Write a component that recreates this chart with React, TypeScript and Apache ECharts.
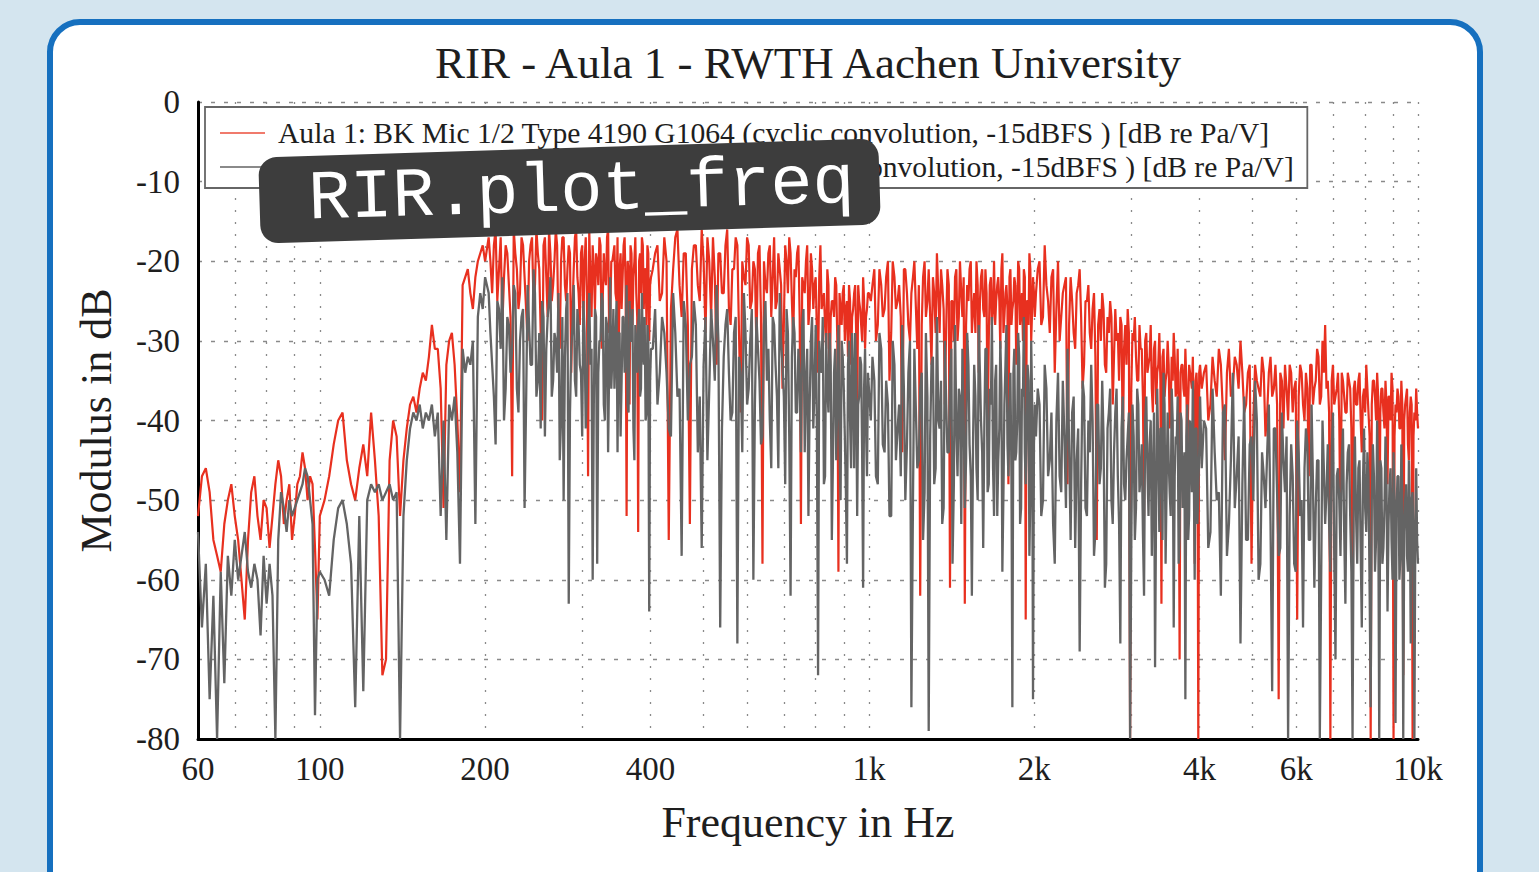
import React, { useEffect, useRef } from "react";
import * as echarts from "echarts";

const titleText = "RIR - Aula 1 - RWTH Aachen University";
const redName = "Aula 1: BK Mic 1/2 Type 4190 G1064 (cyclic convolution, -15dBFS ) [dB re Pa/V]";
const grayName = "Aula 1: BK Mic 1/2 Type 4190 G1064 (linear deconvolution, -15dBFS ) [dB re Pa/V]";

const xTickValues = [60, 100, 200, 400, 1000, 2000, 4000, 6000, 10000];
const xTickLabels = ["60", "100", "200", "400", "1k", "2k", "4k", "6k", "10k"];
const xGridValues = [70, 80, 90, 100, 200, 300, 400, 500, 600, 700, 800, 900, 1000, 2000, 3000, 4000, 5000, 6000, 7000, 8000, 9000, 10000];

const freqLow = [60,61,62,63,64,65,66,67,68,69,70,71,72,73,74,75,76,77,78,79,80,81,82,83,84,85,86,87,88,89,90,91,92,93,94,95,96,97,98,99,100,
102,104,106,108,110,112,114,116,118,120,122,124,126,128,130,132,134,136,138,140,142,144,146,148,150,152,154,156,158,160,162,164,166,168,170,172,174,176,178,180,182,184,186,188,190,192,194,196,198,200];
const redLow = [-52,-47,-46,-49,-55,-57,-59,-53,-50,-48,-52,-55,-60,-65,-55,-49,-47,-52,-55,-50,-51,-56,-52,-48,-45,-47,-53,-50,-48,-55,-52,-48,-47,-44,-46,-50,-47,-48,-56,-65,-52,
-50,-47,-43,-40,-39,-45,-48,-50,-46,-43,-47,-39,-45,-52,-72,-70,-45,-40,-42,-52,-45,-41,-38,-37,-39,-36,-34,-35,-32,-28,-31,-31,-36,-51,-33,-30,-29,-33,-40,-49,-23,-22,-21,-24,-26,-22,-20,-19,-18,-20];
const grayLow = [-54,-66,-58,-75,-62,-80,-59,-73,-57,-62,-55,-60,-57,-54,-59,-61,-58,-60,-67,-57,-63,-58,-62,-80,-55,-49,-51,-54,-50,-52,-51,-50,-49,-48,-46,-47,-50,-53,-77,-60,-59,
-60,-62,-55,-51,-50,-53,-58,-76,-52,-74,-50,-48,-49,-48,-50,-49,-48,-50,-49,-80,-52,-45,-41,-39,-40,-38,-41,-39,-40,-38,-42,-39,-52,-40,-55,-38,-40,-37,-44,-58,-31,-34,-32,-33,-30,-53,-27,-24,-26,-22];

const freqMid = [203,206,209,212,215,218,221,224,227,230,233,236,239,242,245,248,251,254,257,260,263,266,269,272,275,278,281,284,287,290,293,296,299,302,305,308,311,314,317,320,323,326,329,332,335,338,341,344,347,350,353,356,359,362,365,368,371,374,377,380,383,386,389,392,395,398,401,
408,416,424,432,440,448,456,464,472,480,488,496,504,512,520,528,536,544,552,560,568,576,584,592,600,608,616,624,632,640,648,656,664,672,680,688,696,704,712,720,728,736,744,752,760,768,776,784,792,800,808,816,824,832,840,848,856,864,872,880,888,896,904,912,920,928,936,944,952,960,968,976,984,992,1000];
const redMid = [-17,-24,-16,-21,-28,-18,-23,-47,-19,-26,-17,-22,-30,-18,-25,-16,-21,-40,-17,-27,-19,-23,-16,-29,-20,-17,-25,-18,-34,-21,-16,-24,-19,-28,-17,-47,-22,-18,-26,-20,-17,-31,-19,-23,-16,-27,-20,-18,-25,-36,-19,-22,-17,-52,-21,-18,-28,-20,-24,-54,-19,-17,-26,-21,-18,-30,-22,
-19,-25,-17,-55,-21,-16,-27,-19,-53,-18,-23,-16,-29,-20,-17,-33,-19,-24,-16,-28,-21,-18,-39,-22,-17,-26,-20,-31,-18,-58,-23,-19,-27,-17,-25,-21,-36,-18,-24,-19,-30,-22,-18,-53,-23,-20,-28,-19,-26,-22,-34,-18,-25,-28,-21,-37,-25,-27,-23,-59,-26,-24,-30,-25,-23,-33,-26,-23,-41,-25,-28,-22,-31,-26,-24];
const grayMid = [-24,-33,-43,-26,-22,-36,-28,-31,-24,-39,-27,-51,-23,-33,-21,-37,-29,-25,-42,-27,-22,-35,-30,-24,-40,-50,-26,-63,-31,-23,-37,-28,-34,-25,-41,-29,-33,-60,-26,-58,-30,-24,-38,-27,-44,-22,-32,-36,-25,-29,-42,-27,-34,-23,-39,-30,-26,-45,-31,-28,-37,-24,-33,-40,-28,-64,-31,
-26,-34,-29,-41,-24,-37,-57,-28,-33,-25,-44,-56,-27,-36,-30,-23,-66,-32,-26,-40,-29,-68,-34,-24,-38,-30,-60,-27,-35,-42,-25,-31,-46,-28,-37,-24,-33,-48,-29,-62,-27,-39,-31,-44,-26,-35,-52,-30,-41,-28,-72,-33,-27,-47,-36,-29,-55,-34,-45,-28,-50,-32,-42,-58,-30,-46,-35,-29,-52,-37,-33,-61,-31,-47,-36];

const freqMidFill = [204.5,207.5,210.5,213.5,216.5,219.5,222.5,225.5,228.5,231.5,234.5,237.5,240.5,243.5,246.5,249.5,252.5,255.5,258.5,261.5,264.5,267.5,270.5,273.5,276.5,279.5,282.5,285.5,288.5,291.5,294.5,297.5,300.5,303.5,306.5,309.5,312.5,315.5,318.5,321.5,324.5,327.5,330.5,333.5,336.5,339.5,342.5,345.5,348.5,351.5,354.5,357.5,360.5,363.5,366.5,369.5,372.5,375.5,378.5,381.5,384.5,387.5,390.5,393.5,396.5,399.5,
404,412,420,428,436,444,452,460,468,476,484,492,500,508,516,524,532,540,548,556,564,572,580,588,596,604,612,620,628,636,644,652,660,668,676,684,692,700,708,716,724,732,740,748,756,764,772,780,788,796,804,812,820,828,836,844,852,860,868,876,884,892,900,908,916,924,932,940,948,956,964,972,980,988,996];
const redMidFill = [-20,-18,-25,-17,-22,-19,-27,-16,-21,-24,-18,-26,-20,-17,-23,-19,-29,-18,-22,-16,-25,-20,-18,-31,-17,-23,-21,-19,-26,-17,-22,-28,-18,-20,-24,-16,-27,-21,-19,-23,-18,-25,-22,-17,-29,-20,-19,-24,-17,-21,-26,-18,-23,-20,-38,-19,-22,-17,-27,-20,-24,-18,-21,-28,-19,-23,
-21,-18,-24,-20,-26,-17,-23,-19,-28,-21,-18,-25,-20,-17,-27,-22,-19,-24,-18,-26,-21,-17,-29,-20,-23,-18,-25,-21,-19,-27,-20,-24,-18,-22,-26,-19,-23,-28,-20,-17,-25,-21,-19,-27,-22,-24,-18,-26,-21,-23,-29,-22,-26,-24,-31,-23,-27,-25,-22,-30,-24,-28,-23,-26,-32,-25,-27,-24,-29,-23,-26,-30,-25,-27,-24];
const grayMidFill = [-29,-37,-25,-31,-40,-27,-34,-23,-36,-30,-26,-38,-28,-33,-24,-35,-41,-27,-31,-25,-37,-29,-34,-45,-27,-32,-24,-39,-28,-35,-26,-33,-42,-29,-36,-24,-31,-38,-27,-34,-30,-25,-40,-28,-33,-36,-26,-31,-44,-29,-35,-27,-32,-38,-25,-30,-41,-28,-34,-26,-36,-31,-27,-39,-30,-35,
-31,-38,-27,-34,-42,-29,-36,-25,-40,-32,-28,-37,-33,-45,-26,-35,-30,-41,-28,-34,-39,-27,-32,-44,-29,-36,-26,-38,-31,-43,-28,-35,-40,-27,-33,-46,-30,-37,-26,-42,-32,-29,-39,-35,-28,-44,-31,-38,-27,-36,-41,-30,-34,-48,-29,-39,-33,-45,-31,-37,-43,-30,-36,-49,-33,-40,-29,-46,-35,-38,-32,-44,-36,-41,-34];

const freqHigh = [1015,1030,1045,1060,1075,1090,1105,1120,1135,1150,1165,1180,1195,1210,1225,1240,1255,1270,1285,1300,1315,1330,1345,1360,1375,1390,1405,1420,1435,1450,1465,1480,1495,1510,1525,1540,1555,1570,1585,1600,1615,1630,1645,1660,1675,1690,1705,1720,1735,1750,1765,1780,1795,1810,1825,1840,1855,1870,1885,1900,1915,1930,1945,1960,1975,1990,2005,
2030,2060,2090,2120,2150,2180,2210,2240,2270,2300,2330,2360,2390,2420,2450,2480,2510,2540,2570,2600,2630,2660,2690,2720,2750,2780,2810,2840,2870,2900,2930,2960,2990,3020,3050,3080,3110,3140,3170,3200,3230,3260,3290,3320,3350,3380,3410,3440,3470,3500,3530,3560,3590,3620,3650,3680,3710,3740,3770,3800,3830,3860,3890,3920,3950,3980,4010,
4075,4150,4225,4300,4375,4450,4525,4600,4675,4750,4825,4900,4975,5050,5125,5200,5275,5350,5425,5500,5575,5650,5725,5800,5875,5950,6025,6100,6175,6250,6325,6400,6475,6550,6625,6700,6775,6850,6925,7000,7075,7150,7225,7300,7375,7450,7525,7600,7675,7750,7825,7900,7975,8050,8125,8200,8275,8350,8425,8500,8575,8650,8725,8800,8875,8950,9025,9100,9175,9250,9325,9400,9475,9550,9625,9700,9775,9850,9925,10000];
const redHigh = [-23,-30,-21,-27,-22,-35,-20,-26,-23,-44,-21,-28,-24,-20,-31,-62,-22,-27,-21,-33,-24,-19,-29,-23,-38,-21,-61,-25,-22,-30,-20,-27,-63,-23,-21,-29,-24,-20,-34,-22,-26,-21,-42,-23,-28,-20,-25,-22,-31,-19,-27,-23,-48,-21,-26,-22,-33,-20,-28,-24,-21,-65,-25,-19,-30,-22,-27,
-21,-28,-18,-25,-22,-34,-20,-27,-23,-48,-22,-29,-24,-21,-36,-25,-23,-31,-24,-55,-26,-24,-33,-27,-25,-38,-26,-29,-27,-44,-28,-26,-80,-29,-27,-35,-28,-31,-52,-29,-33,-28,-39,-30,-34,-29,-63,-31,-35,-30,-41,-32,-29,-37,-31,-70,-33,-36,-31,-46,-33,-35,-32,-58,-34,-80,-33,
-34,-40,-32,-37,-33,-45,-31,-36,-33,-30,-39,-34,-58,-33,-36,-32,-42,-34,-37,-33,-75,-35,-33,-40,-34,-36,-65,-33,-38,-34,-47,-33,-36,-31,-38,-30,-28,-35,-80,-33,-37,-34,-55,-35,-39,-34,-36,-70,-35,-38,-34,-44,-36,-33,-39,-80,-35,-37,-34,-62,-36,-39,-35,-48,-37,-34,-80,-38,-36,-41,-35,-72,-38,-36,-45,-37,-80,-39,-36,-41];
const grayHigh = [-32,-47,-29,-43,-35,-52,-30,-45,-38,-28,-50,-34,-76,-31,-46,-36,-55,-29,-79,-33,-48,-27,-41,-53,-30,-44,-35,-58,-28,-47,-37,-31,-51,-29,-43,-62,-33,-46,-28,-40,-56,-31,-49,-36,-27,-52,-33,-45,-30,-59,-38,-28,-47,-34,-76,-31,-44,-29,-53,-36,-27,-48,-33,-57,-30,-75,-38,
-36,-52,-33,-47,-39,-58,-34,-49,-42,-31,-55,-37,-45,-69,-35,-51,-40,-33,-57,-38,-48,-35,-61,-41,-36,-53,-39,-47,-68,-37,-50,-42,-80,-38,-55,-36,-49,-43,-62,-37,-52,-40,-47,-71,-36,-54,-41,-34,-58,-39,-49,-36,-66,-42,-37,-55,-40,-47,-75,-38,-52,-43,-35,-60,-41,-49,-37,
-40,-56,-36,-50,-62,-38,-53,-34,-47,-68,-37,-55,-42,-35,-60,-44,-51,-38,-74,-41,-57,-39,-49,-80,-43,-58,-40,-52,-66,-41,-55,-38,-61,-45,-80,-40,-53,-43,-59,-39,-70,-46,-57,-41,-63,-44,-52,-80,-42,-58,-45,-66,-41,-54,-47,-76,-43,-59,-40,-80,-46,-56,-42,-64,-48,-55,-44,-78,-47,-60,-43,-80,-50,-57,-45,-68,-49,-80,-46,-58];

const freqHighFill = [1008,1023,1038,1053,1068,1083,1098,1113,1128,1143,1158,1173,1188,1203,1218,1233,1248,1263,1278,1293,1308,1323,1338,1353,1368,1383,1398,1413,1428,1443,1458,1473,1488,1503,1518,1533,1548,1563,1578,1593,1608,1623,1638,1653,1668,1683,1698,1713,1728,1743,1758,1773,1788,1803,1818,1833,1848,1863,1878,1893,1908,1923,1938,1953,1968,1983,1998,
2015,2045,2075,2105,2135,2165,2195,2225,2255,2285,2315,2345,2375,2405,2435,2465,2495,2525,2555,2585,2615,2645,2675,2705,2735,2765,2795,2825,2855,2885,2915,2945,2975,3005,3035,3065,3095,3125,3155,3185,3215,3245,3275,3305,3335,3365,3395,3425,3455,3485,3515,3545,3575,3605,3635,3665,3695,3725,3755,3785,3815,3845,3875,3905,3935,3965,3995,
4038,4113,4188,4263,4338,4413,4488,4563,4638,4713,4788,4863,4938,5013,5088,5163,5238,5313,5388,5463,5538,5613,5688,5763,5838,5913,5988,6063,6138,6213,6288,6363,6438,6513,6588,6663,6738,6813,6888,6963,7038,7113,7188,7263,7338,7413,7488,7563,7638,7713,7788,7863,7938,8013,8088,8163,8238,8313,8388,8463,8538,8613,8688,8763,8838,8913,8988,9063,9138,9213,9288,9363,9438,9513,9588,9663,9738,9813,9888,9963];
const redHighFill = [-25,-21,-28,-23,-26,-20,-29,-22,-25,-27,-21,-24,-30,-22,-26,-23,-28,-20,-25,-27,-22,-29,-24,-21,-26,-28,-23,-25,-30,-21,-27,-24,-22,-28,-25,-20,-26,-29,-23,-25,-21,-27,-24,-30,-22,-26,-28,-23,-25,-21,-29,-24,-26,-22,-28,-25,-23,-27,-21,-26,-30,-22,-25,-28,-21,-26,-24,
-24,-20,-27,-23,-29,-21,-26,-30,-24,-22,-28,-25,-31,-23,-27,-33,-25,-29,-26,-32,-28,-30,-26,-34,-29,-27,-32,-30,-35,-28,-31,-33,-29,-36,-30,-32,-35,-31,-37,-30,-34,-32,-36,-31,-38,-33,-35,-32,-37,-34,-33,-38,-35,-32,-36,-39,-34,-33,-37,-35,-38,-34,-36,-40,-35,-37,-34,
-36,-33,-38,-35,-31,-39,-34,-37,-32,-36,-34,-38,-33,-40,-35,-37,-34,-39,-32,-36,-38,-34,-41,-36,-33,-39,-35,-37,-34,-40,-36,-33,-38,-35,-32,-37,-34,-36,-39,-35,-38,-36,-40,-34,-37,-39,-35,-41,-36,-38,-35,-40,-37,-39,-36,-42,-38,-35,-40,-37,-39,-36,-41,-38,-37,-40,-36,-42,-39,-37,-41,-38,-40,-37,-43,-39,-38,-42,-40,-39];
const grayHighFill = [-40,-35,-48,-31,-44,-38,-52,-33,-41,-47,-36,-43,-30,-50,-39,-45,-34,-49,-37,-42,-32,-46,-40,-35,-51,-38,-44,-31,-48,-41,-36,-53,-39,-45,-33,-47,-42,-37,-50,-34,-44,-40,-31,-48,-38,-46,-35,-52,-41,-36,-49,-33,-43,-39,-47,-34,-45,-40,-32,-51,-37,-44,-41,-35,-49,-38,-43,
-42,-38,-50,-36,-45,-53,-40,-47,-35,-51,-43,-39,-56,-41,-48,-37,-52,-44,-40,-54,-38,-46,-42,-58,-39,-50,-44,-36,-53,-41,-48,-45,-39,-56,-42,-51,-38,-47,-54,-40,-46,-43,-57,-39,-50,-44,-41,-55,-38,-48,-45,-52,-40,-47,-43,-58,-39,-51,-44,-42,-55,-40,-49,-46,-41,-53,-44,
-46,-41,-54,-44,-49,-39,-57,-45,-51,-42,-48,-55,-43,-50,-40,-58,-47,-44,-53,-41,-49,-56,-45,-42,-52,-47,-59,-44,-50,-46,-43,-55,-48,-51,-45,-60,-46,-49,-53,-44,-57,-47,-50,-45,-54,-48,-43,-59,-49,-52,-46,-56,-48,-51,-44,-61,-50,-47,-55,-49,-45,-58,-51,-48,-53,-46,-60,-50,-52,-47,-57,-49,-54,-48,-59,-51,-50,-56,-53,-55];

const SERIF = '"Liberation Serif", "Times New Roman", serif';
const MONO = '"Liberation Mono", "DejaVu Sans Mono", monospace';

function buildSeries(freqSets: number[][], valueSets: number[][]) {
  const pts: number[][] = [];
  freqSets.forEach((fs, k) => {
    const vs = valueSets[k];
    if (fs.length !== vs.length) console.warn("length mismatch", k, fs.length, vs.length);
    fs.forEach((f, i) => pts.push([f, vs[i]]));
  });
  pts.sort((a, b) => a[0] - b[0]);
  return pts;
}

export default function App() {
  const ref = useRef<HTMLDivElement>(null);
  useEffect(() => {
    document.body.style.margin = "0";
    const chart = echarts.init(ref.current!, null, { renderer: "svg" });
    const freqSets = [freqLow, freqMid, freqMidFill, freqHigh, freqHighFill];
    const redData = buildSeries(freqSets, [redLow, redMid, redMidFill, redHigh, redHighFill]);
    const grayData = buildSeries(freqSets, [grayLow, grayMid, grayMidFill, grayHigh, grayHighFill]);
    const labelFor = (v: number) => {
      const r = Math.round(v);
      const idx = xTickValues.findIndex((t) => Math.abs(t - r) < 0.5);
      return idx >= 0 ? xTickLabels[idx] : "";
    };
    chart.setOption({
      animation: false,
      title: {
        text: titleText,
        left: 808,
        top: 40,
        padding: 0,
        textAlign: "center",
        textStyle: { fontFamily: SERIF, fontSize: 45, fontWeight: "normal", color: "#1e1e1e" },
      },
      legend: {
        left: 205,
        top: 107,
        orient: "vertical",
        icon: "rect",
        itemWidth: 45,
        itemHeight: 2,
        itemGap: 4,
        padding: [11, 13, 6, 15],
        borderColor: "#666666",
        borderWidth: 1.8,
        backgroundColor: "#ffffff",
        textStyle: { fontFamily: SERIF, fontSize: 29.6, color: "#1e1e1e", padding: [0, 0, 0, 8], lineHeight: 30 },
        data: [
          { name: redName, itemStyle: { color: "#f07a6c" } },
          { name: grayName, itemStyle: { color: "#8a8a8a" } },
        ],
      },
      grid: { left: 198, top: 102, width: 1220, height: 637 },
      xAxis: {
        type: "log",
        logBase: 10,
        min: 60,
        max: 10000,
        name: "Frequency in Hz",
        nameLocation: "middle",
        nameGap: 61,
        nameTextStyle: { fontFamily: SERIF, fontSize: 44, color: "#1e1e1e" },
        axisLine: { show: true, onZero: false, lineStyle: { color: "#000", width: 3 } },
        axisTick: { show: false, customValues: xGridValues },
        axisLabel: {
          customValues: xTickValues,
          formatter: (v: number) => labelFor(v),
          margin: 13,
          fontFamily: SERIF,
          fontSize: 33,
          color: "#1e1e1e",
        },
        splitLine: { show: true, lineStyle: { type: [2, 10], color: "#8a8a8a", width: 1.3 } },
      },
      yAxis: {
        type: "value",
        min: -80,
        max: 0,
        interval: 10,
        name: "Modulus in dB",
        nameLocation: "middle",
        nameGap: 80,
        nameTextStyle: { fontFamily: SERIF, fontSize: 44, color: "#1e1e1e" },
        axisLine: { show: true, onZero: false, lineStyle: { color: "#000", width: 3 } },
        axisTick: { show: false },
        axisLabel: { margin: 18, fontFamily: SERIF, fontSize: 33, color: "#1e1e1e" },
        splitLine: { show: true, lineStyle: { type: [4, 9], color: "#8a8a8a", width: 1.3 } },
      },
      series: [
        {
          type: "line",
          name: redName,
          data: redData,
          symbol: "none",
          lineStyle: { color: "#e8301f", width: 2.2 },
          itemStyle: { color: "#e8301f" },
          z: 2,
        },
        {
          type: "line",
          name: grayName,
          data: grayData,
          symbol: "none",
          lineStyle: { color: "#646464", width: 2.3 },
          itemStyle: { color: "#646464" },
          z: 3,
        },
      ],
      graphic: [
        {
          type: "rect",
          z: -100,
          silent: true,
          shape: { x: 0, y: 0, width: 1539, height: 872 },
          style: { fill: "#d4e5ef" },
        },
        {
          type: "rect",
          z: -99,
          silent: true,
          shape: { x: 50, y: 22, width: 1430, height: 900, r: 30 },
          style: { fill: "#ffffff", stroke: "#1670bf", lineWidth: 6 },
        },
        {
          type: "group",
          x: 569.5,
          y: 191,
          rotation: 0.0306,
          z: 100,
          silent: true,
          children: [
            {
              type: "rect",
              z: 100,
              shape: { x: -310, y: -43, width: 620, height: 86, r: 18 },
              style: { fill: "#3d3d3d" },
            },
            {
              type: "text",
              z: 101,
              x: 12,
              y: 1,
              style: {
                text: "RIR.plot_freq",
                fill: "#ffffff",
                font: '70px "Liberation Mono", monospace',
                fontFamily: MONO,
                fontSize: 70,
                align: "center",
                verticalAlign: "middle",
                textAlign: "center",
                textVerticalAlign: "middle",
              },
            },
          ],
        },
      ],
    });
    return () => chart.dispose();
  }, []);
  return <div ref={ref} style={{ width: 1539, height: 872 }} />;
}
